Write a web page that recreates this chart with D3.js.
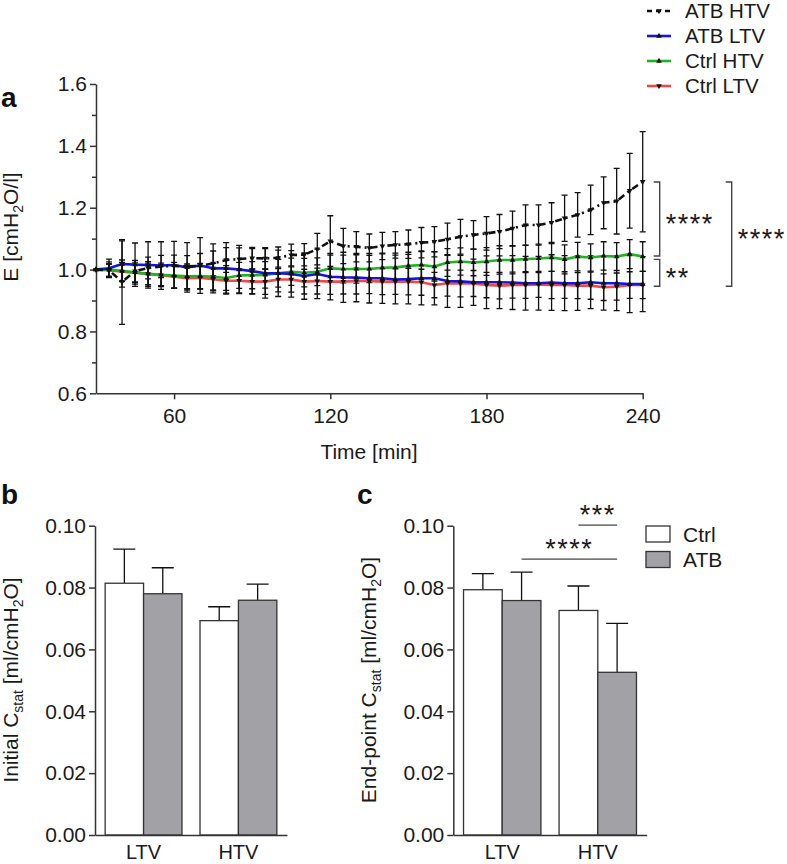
<!DOCTYPE html>
<meta charset="utf-8">
<title>Elastance and static compliance</title>
<style>
    body { margin: 0; background: #fff; }
    svg { font-family: "Liberation Sans", Arial, sans-serif; }
    .axis path, .axis line { stroke: #333; stroke-width: 1.5; }
    .axis text { font-family: "Liberation Sans", Arial, sans-serif; font-size: 21px; fill: #1a1a1a; }
    .lbl { font-size: 21px; fill: #1a1a1a; }
    .leg { font-size: 20.5px; fill: #1a1a1a; }
    .panel { font-size: 28px; font-weight: bold; fill: #111; }
    .err { stroke: #111; stroke-width: 1.3; fill: none; }
    .serie { fill: none; stroke-width: 2.6; stroke-linejoin: round; }
    .bar { stroke: #333; stroke-width: 1.3; }
    .sig { stroke: #444; stroke-width: 1.4; fill: none; }
    .star { font-size: 27px; fill: #1a1a1a; letter-spacing: 1.5px; }
</style>
<body>
<svg id="fig" width="787" height="864"></svg>
<script src="https://cdn.jsdelivr.net/npm/d3@7/dist/d3.min.js"></script>
<script>
    // panel a: E normalised to t=30 min, mean and SD
    var timeMin = [30, 35, 40, 45, 50, 55, 60, 65, 70, 75, 80, 85, 90, 95, 100, 105, 110, 115, 120, 125, 130, 135,
        140, 145, 150, 155, 160, 165, 170, 175, 180, 185, 190, 195, 200, 205, 210, 215, 220, 225, 230, 235, 240];

    var atbHtvMean = [1.0, 0.998, 0.96, 0.995, 1.005, 1.01, 1.012, 1.01, 1.012, 1.02, 1.031, 1.034, 1.037, 1.036, 1.038,
        1.047, 1.048, 1.066, 1.092, 1.076, 1.074, 1.07, 1.076, 1.08, 1.082, 1.087, 1.09, 1.098, 1.106, 1.112, 1.117,
        1.123, 1.133, 1.144, 1.144, 1.152, 1.166, 1.177, 1.193, 1.216, 1.221, 1.255, 1.284];
    var atbHtvSd = [0, 0.02, 0.137, 0.035, 0.035, 0.036, 0.035, 0.035, 0.04, 0.04, 0.04, 0.036, 0.035, 0.035, 0.035,
        0.035, 0.036, 0.051, 0.082, 0.057, 0.049, 0.045, 0.044, 0.043, 0.046, 0.049, 0.049, 0.052, 0.056, 0.046, 0.054,
        0.055, 0.056, 0.065, 0.065, 0.064, 0.075, 0.072, 0.08, 0.084, 0.106, 0.121, 0.162];

    var atbLtvMean = [1.0, 1.004, 1.018, 1.016, 1.015, 1.013, 1.015, 1.007, 1.013, 1.004, 1.004, 1.0, 0.995, 0.988, 0.988,
        0.986, 0.979, 0.986, 0.977, 0.975, 0.974, 0.972, 0.972, 0.968, 0.969, 0.972, 0.972, 0.963, 0.962, 0.959, 0.959,
        0.959, 0.958, 0.956, 0.956, 0.958, 0.956, 0.956, 0.959, 0.956, 0.956, 0.953, 0.953];
    var atbLtvSd = [0, 0.03, 0.075, 0.07, 0.075, 0.077, 0.076, 0.08, 0.09, 0.079, 0.083, 0.078, 0.073, 0.08, 0.075,
        0.075, 0.075, 0.08, 0.075, 0.081, 0.078, 0.08, 0.081, 0.079, 0.08, 0.086, 0.086, 0.085, 0.084, 0.075, 0.085,
        0.085, 0.087, 0.087, 0.087, 0.09, 0.089, 0.088, 0.085, 0.087, 0.089, 0.092, 0.089];

    var ctrlHtvMean = [1.0, 1.0, 0.996, 0.991, 0.986, 0.983, 0.981, 0.978, 0.979, 0.977, 0.973, 0.981, 0.982, 0.983, 0.988,
        0.993, 0.99, 0.993, 1.004, 1.002, 1.002, 1.002, 1.006, 1.007, 1.012, 1.015, 1.01, 1.023, 1.026, 1.023, 1.026,
        1.031, 1.031, 1.034, 1.036, 1.039, 1.033, 1.042, 1.039, 1.044, 1.042, 1.05, 1.042];
    var ctrlHtvSd = [0, 0.025, 0.035, 0.038, 0.04, 0.038, 0.042, 0.04, 0.041, 0.043, 0.04, 0.042, 0.044, 0.043, 0.045,
        0.044, 0.046, 0.045, 0.043, 0.045, 0.046, 0.044, 0.045, 0.046, 0.044, 0.045, 0.047, 0.045, 0.044, 0.043, 0.045,
        0.046, 0.045, 0.044, 0.046, 0.045, 0.047, 0.046, 0.044, 0.046, 0.045, 0.047, 0.048];

    var ctrlLtvMean = [1.0, 0.998, 0.993, 0.99, 0.986, 0.982, 0.977, 0.972, 0.974, 0.969, 0.964, 0.964, 0.961, 0.961, 0.968,
        0.968, 0.961, 0.963, 0.961, 0.961, 0.963, 0.963, 0.961, 0.961, 0.961, 0.959, 0.95, 0.956, 0.955, 0.955, 0.95,
        0.948, 0.95, 0.95, 0.952, 0.95, 0.95, 0.948, 0.948, 0.943, 0.945, 0.95, 0.95];
    var ctrlLtvSd = [0, 0.02, 0.03, 0.032, 0.035, 0.034, 0.036, 0.038, 0.037, 0.038, 0.04, 0.039, 0.04, 0.041, 0.04,
        0.041, 0.04, 0.042, 0.041, 0.04, 0.042, 0.041, 0.042, 0.041, 0.043, 0.042, 0.041, 0.042, 0.043, 0.042, 0.041,
        0.043, 0.042, 0.043, 0.042, 0.044, 0.043, 0.042, 0.044, 0.043, 0.044, 0.043, 0.044];

    var yTicksA = [0.6, 0.8, 1.0, 1.2, 1.4, 1.6];
    var yMinorA = [0.7, 0.9, 1.1, 1.3, 1.5];
    var xTicksA = [60, 120, 180, 240];

    // significance at 240 min: [upper, lower, label]
    var sigA = [[1.283, 1.044, "****"], [1.033, 0.946, "**"], [1.283, 0.946, "****"]];

    // panels b and c: static compliance
    var volGroups = ["LTV", "HTV"];
    var treatments = ["Ctrl", "ATB"];
    var yTicksBC = [0, 0.02, 0.04, 0.06, 0.08, 0.10];
    var initialCtrl = [0.0814, 0.0693], initialCtrlSd = [0.0110, 0.0045];
    var initialAtb = [0.0780, 0.0759], initialAtbSd = [0.0084, 0.0052];
    var endCtrl = [0.0793, 0.0726], endCtrlSd = [0.0052, 0.0079];
    var endAtb = [0.0758, 0.0526], endAtbSd = [0.0092, 0.0158];
    // significance in c: [group1, treat1, group2, treat2, level, label]
    var sigC = [["HTV", "Ctrl", "HTV", "ATB", 0.1002, "***"], ["LTV", "ATB", "HTV", "ATB", 0.0892, "****"]];

    var series = [
        {name: "ATB HTV", mean: atbHtvMean, sd: atbHtvSd, color: "#111", dash: "7,4,2,4", down: true},
        {name: "ATB LTV", mean: atbLtvMean, sd: atbLtvSd, color: "#1414dc", dash: null, down: false},
        {name: "Ctrl HTV", mean: ctrlHtvMean, sd: ctrlHtvSd, color: "#24b024", dash: null, down: false},
        {name: "Ctrl LTV", mean: ctrlLtvMean, sd: ctrlLtvSd, color: "#f04848", dash: null, down: true}
    ];

    var svg = d3.select("#fig");
    svg.append("rect").attr("width", 787).attr("height", 864).attr("fill", "#fff");

    function marker(g, down) {
        return g.append("path")
            .attr("d", d3.symbol().type(d3.symbolTriangle).size(14))
            .attr("fill", "#111")
            .attr("transform", function() { return down ? "rotate(180)" : null; });
    }

    // ================= panel a =================
    var xa = d3.scaleLinear().domain([30, 240]).range([96, 642.7]);
    var ya = d3.scaleLinear().domain([0.6, 1.6]).range([393.3, 84]);
    var ga = svg.append("g");

    ga.append("g").attr("class", "axis").attr("transform", "translate(96,0)")
        .call(d3.axisLeft(ya).tickValues(yTicksA).tickFormat(d3.format(".1f"))
            .tickSize(6).tickSizeOuter(0).tickPadding(3));
    ga.append("g").attr("class", "axis").attr("transform", "translate(96,0)")
        .call(d3.axisLeft(ya).tickValues(yMinorA).tickFormat("").tickSize(4))
        .select(".domain").remove();
    ga.append("g").attr("class", "axis").attr("transform", "translate(0,393.3)")
        .call(d3.axisBottom(xa).tickValues(xTicksA).tickSize(6).tickSizeOuter(0).tickPadding(9));

    ga.append("text").attr("class", "lbl").attr("x", 369).attr("y", 459)
        .attr("text-anchor", "middle").text("Time [min]");
    var yl = ga.append("text").attr("class", "lbl").attr("text-anchor", "middle")
        .attr("transform", "translate(18,227) rotate(-90)");
    yl.append("tspan").text("E [cmH");
    yl.append("tspan").attr("dy", 5).attr("font-size", 14).text("2");
    yl.append("tspan").attr("dy", -5).text("O/l]");

    // error bars under the lines
    var drawOrder = series.slice().reverse();
    drawOrder.forEach(function(s) {
        var eb = ga.append("g").selectAll("g").data(timeMin).enter().append("g");
        eb.append("path").attr("class", "err").attr("d", function(t, i) {
            var x = xa(t), y0 = ya(s.mean[i] - s.sd[i]), y1 = ya(s.mean[i] + s.sd[i]);
            return "M" + x + "," + y0 + "V" + y1 + "M" + (x - 3) + "," + y0 + "H" + (x + 3) +
                "M" + (x - 3) + "," + y1 + "H" + (x + 3);
        });
    });
    drawOrder.forEach(function(s) {
        var line = d3.line().x(function(t) { return xa(t); })
            .y(function(t, i) { return ya(s.mean[i]); });
        ga.append("path").datum(timeMin).attr("class", "serie")
            .attr("stroke", s.color).attr("stroke-dasharray", s.dash).attr("d", line);
    });
    drawOrder.forEach(function(s) {
        ga.append("g").selectAll("g").data(timeMin).enter().append("g")
            .attr("transform", function(t, i) { return "translate(" + xa(t) + "," + ya(s.mean[i]) + ")"; })
            .each(function() { marker(d3.select(this), s.down); });
    });

    // brackets right of the last time point
    var bx = [xa(240) + 17, xa(240) + 17, xa(240) + 89];
    sigA.forEach(function(d, i) {
        var yt = ya(d[0]), yb = ya(d[1]), x = bx[i];
        ga.append("path").attr("class", "sig")
            .attr("d", "M" + (x - 6) + "," + yt + "H" + x + "V" + yb + "H" + (x - 6));
        ga.append("text").attr("class", "star").attr("x", x + 6).attr("y", (yt + yb) / 2 + 14).text(d[2]);
    });

    // legend a
    var lega = ga.append("g").selectAll("g").data(series).enter().append("g")
        .attr("transform", function(d, i) { return "translate(647," + (11 + i * 25) + ")"; });
    lega.append("line").attr("x1", 0).attr("x2", 24).attr("stroke-width", 2.6)
        .attr("stroke", function(d) { return d.color; })
        .attr("stroke-dasharray", function(d) { return d.dash ? "5,4" : null; });
    lega.each(function(d) { marker(d3.select(this).append("g").attr("transform", "translate(12,0)"), d.down); });
    lega.append("text").attr("class", "leg").attr("x", 38).attr("y", 7).text(function(d) { return d.name; });

    ga.append("text").attr("class", "panel").attr("x", 1).attr("y", 107).text("a");

    // ================= panels b, c =================
    function barPanel(x0, x1, ctrl, ctrlSd, atb, atbSd, labelStart, letter, letterX, labelX) {
        var g = svg.append("g");
        var y = d3.scaleLinear().domain([0, 0.1]).range([835, 525.7]);
        var xg = d3.scaleBand().domain(volGroups).range([x0, x1]).paddingInner(0.19).paddingOuter(0.107);
        var xt = d3.scaleBand().domain(treatments).range([0, xg.bandwidth()]);
        var rows = [];
        volGroups.forEach(function(v, i) {
            rows.push({grp: v, tr: "Ctrl", m: ctrl[i], sd: ctrlSd[i]});
            rows.push({grp: v, tr: "ATB", m: atb[i], sd: atbSd[i]});
        });
        var cx = function(d) { return xg(d.grp) + xt(d.tr) + xt.bandwidth() / 2; };

        g.selectAll(".ebar").data(rows).enter().append("path").attr("class", "err")
            .attr("stroke-width", 1.5)
            .attr("d", function(d) {
                var x = cx(d), yt = y(d.m + d.sd);
                return "M" + x + "," + y(d.m) + "V" + yt + "M" + (x - 11) + "," + yt + "H" + (x + 11);
            });
        g.selectAll(".bar").data(rows).enter().append("rect").attr("class", "bar")
            .attr("x", function(d) { return xg(d.grp) + xt(d.tr); })
            .attr("width", xt.bandwidth())
            .attr("y", function(d) { return y(d.m); })
            .attr("height", function(d) { return y(0) - y(d.m); })
            .attr("fill", function(d) { return d.tr === "Ctrl" ? "#fff" : "#a2a2a6"; });

        g.append("g").attr("class", "axis").attr("transform", "translate(" + x0 + ",0)")
            .call(d3.axisLeft(y).tickValues(yTicksBC).tickFormat(d3.format(".2f"))
                .tickSize(6).tickSizeOuter(0).tickPadding(3));
        g.append("g").attr("class", "axis").attr("transform", "translate(0,835)")
            .call(d3.axisBottom(xg).tickSize(0).tickSizeOuter(0).tickPadding(10))
            .selectAll("text").style("font-size", "20px");

        var t = g.append("text").attr("class", "lbl").attr("text-anchor", "middle")
            .attr("transform", "translate(" + labelX + ",680) rotate(-90)");
        t.append("tspan").text(labelStart + " C");
        t.append("tspan").attr("dy", 5).attr("font-size", 14).text("stat");
        t.append("tspan").attr("dy", -5).text(" [ml/cmH");
        t.append("tspan").attr("dy", 5).attr("font-size", 14).text("2");
        t.append("tspan").attr("dy", -5).text("O]");

        g.append("text").attr("class", "panel").attr("x", letterX).attr("y", 504).text(letter);
        return {g: g, y: y, cx: function(grp, tr) { return cx({grp: grp, tr: tr}); }};
    }

    barPanel(95, 287, initialCtrl, initialCtrlSd, initialAtb, initialAtbSd, "Initial", "b", 1, 18);
    var pc = barPanel(453.3, 646.7, endCtrl, endCtrlSd, endAtb, endAtbSd, "End-point", "c", 357, 376);

    sigC.forEach(function(d) {
        var xa1 = pc.cx(d[0], d[1]), xa2 = pc.cx(d[2], d[3]), yy = pc.y(d[4]);
        pc.g.append("path").attr("class", "sig").attr("d", "M" + xa1 + "," + yy + "H" + xa2);
        pc.g.append("text").attr("class", "star").attr("text-anchor", "middle")
            .attr("x", (xa1 + xa2) / 2).attr("y", yy - 1).text(d[5]);
    });

    // legend c
    var legc = pc.g.append("g").selectAll("g").data(treatments).enter().append("g")
        .attr("transform", function(d, i) { return "translate(646," + (526 + i * 25.5) + ")"; });
    legc.append("rect").attr("class", "bar").attr("width", 24).attr("height", 16)
        .attr("fill", function(d) { return d === "Ctrl" ? "#fff" : "#a2a2a6"; });
    legc.append("text").attr("class", "lbl").attr("x", 37).attr("y", 15.5).text(function(d) { return d; });
</script>
</body>
